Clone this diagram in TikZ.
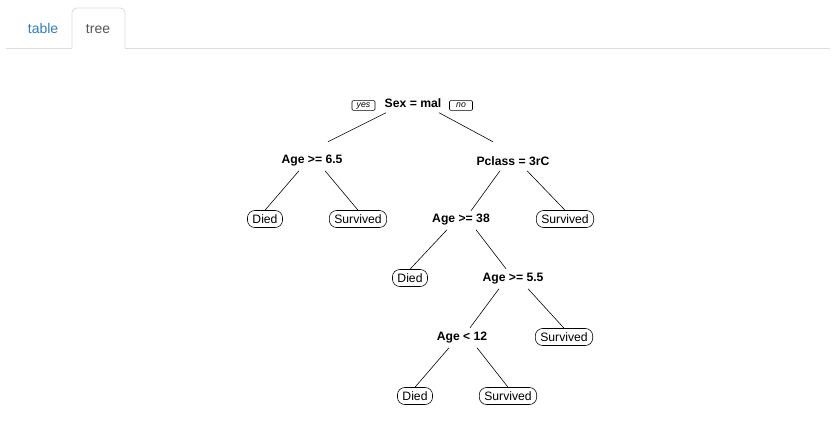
\documentclass[tikz,border=0pt]{standalone}
\usepackage{fontspec}
\setmainfont{Liberation Sans}
\usetikzlibrary{positioning, calc}
\definecolor{tabblue}{HTML}{337AB7}
\definecolor{tabgray}{HTML}{555555}
\definecolor{tabline}{HTML}{DDDDDD}

\begin{document}
\begin{tikzpicture}[x=0.03cm, y=-0.03cm,
    split/.style={font=\fontsize{10.4}{12}\selectfont\bfseries, inner sep=0pt, minimum height=0.54cm},
    leaf/.style={draw, line width=0.5pt, font=\fontsize{10.4}{12}\selectfont, inner xsep=0.15cm, inner ysep=0pt, minimum height=0.51cm, rounded corners=0.22cm},
    tag/.style={draw, line width=0.55pt, font=\fontsize{7.5}{9}\selectfont\itshape, inner xsep=0.09cm, inner ysep=1.2pt, text height=5pt, text depth=1pt, minimum width=0.69cm, rounded corners=1pt},
    branch/.style={line width=0.5pt},
    tab/.style={font=\fontsize{11.9}{14}\selectfont}]

            \useasboundingbox (0,0) rectangle (836,444);

            % Tabs
            \draw[tabline, line width=0.8pt] (6,48) -- (72,48);
            \draw[tabline, line width=0.8pt, rounded corners=4pt] (72,48) -- (72,8) -- (125,8) -- (125,48);
            \draw[tabline, line width=0.8pt] (125,48) -- (830,48);
            \node[tab, text=tabblue] (tabtable) at (43,29) {table};
            \node[tab, text=tabgray] (tabtree) at (98,29) {tree};

            % Splits and leaves
            \node[split] (sex) at (413,103) {Sex = mal};
            \node[tag] (yes) at (363.5,105.5) {yes};
            \node[tag] (no) at (461,105.5) {no};
            \node[split] (age65) at (312,161) {Age >= 6.5};
            \node[split] (pclass) at (513,161) {Pclass = 3rC};
            \node[leaf] (died1) at (265,219) {Died};
            \node[leaf] (surv1) at (358,219) {Survived};
            \node[split] (age38) at (461,220) {Age >= 38};
            \node[leaf] (surv2) at (565,219) {Survived};
            \node[leaf] (died2) at (410,278) {Died};
            \node[split] (age55) at (513,279) {Age >= 5.5};
            \node[split] (age12) at (462,338) {Age < 12};
            \node[leaf] (surv3) at (564,337) {Survived};
            \node[leaf] (died3) at (415,396) {Died};
            \node[leaf] (surv4) at (508,396) {Survived};

            % Branches
            \draw[branch] ($(sex.south)+(-27,0.5)$) -- ($(age65.north)+(16,-10)$);
            \draw[branch] ($(sex.south)+(26,0.5)$) -- ($(pclass.north)+(-20,-10)$);
            \draw[branch] ($(age65.south)+(-13,0.5)$) -- (died1.north);
            \draw[branch] ($(age65.south)+(13,0.5)$) -- (surv1.north);
            \draw[branch] ($(pclass.south)+(-13,0.5)$) -- ($(age38.north)+(10,0)$);
            \draw[branch] ($(pclass.south)+(14,0.5)$) -- (surv2.north);
            \draw[branch] ($(age38.south)+(-14,0.5)$) -- (died2.north);
            \draw[branch] ($(age38.south)+(15,0.5)$) -- ($(age55.north)+(-7,-1)$);
            \draw[branch] ($(age55.south)+(-14,0.5)$) -- ($(age12.north)+(8,-1)$);
            \draw[branch] ($(age55.south)+(15,0.5)$) -- (surv3.north);
            \draw[branch] ($(age12.south)+(-13,0.5)$) -- (died3.north);
            \draw[branch] ($(age12.south)+(15,0.5)$) -- (surv4.north);

\end{tikzpicture}
\end{document}
